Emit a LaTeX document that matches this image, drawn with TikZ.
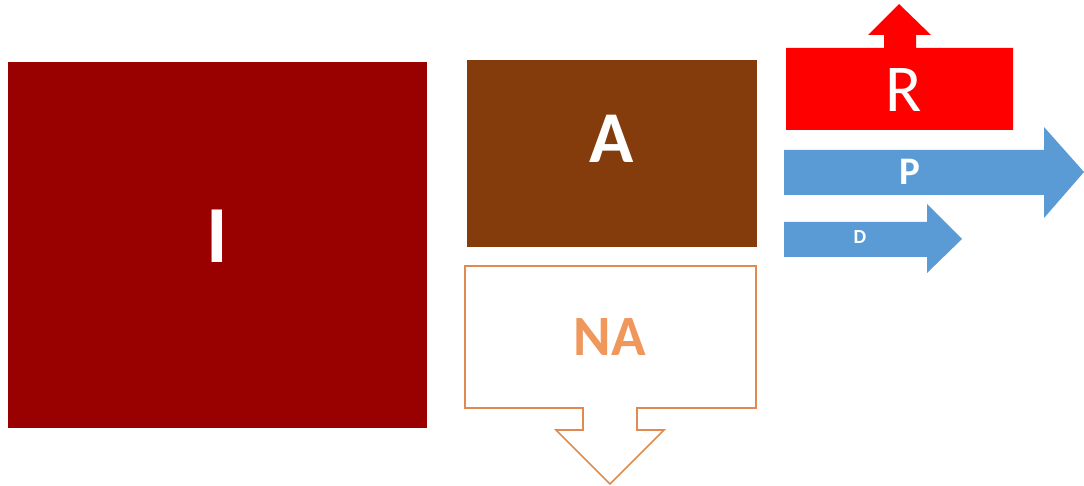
\documentclass[tikz,border=0pt]{standalone}
\usepackage{fontspec}
\setmainfont{Carlito}
\definecolor{cI}{HTML}{990000}
\definecolor{cA}{HTML}{843C0C}
\definecolor{cNA}{HTML}{E08A50}
\definecolor{cNAtxt}{HTML}{F0975C}
\definecolor{cR}{HTML}{FF0000}
\definecolor{cP}{HTML}{5B9BD5}
\tikzset{
  lbl/.style={text=white, inner sep=0pt, anchor=center},
}
\begin{document}
\begin{tikzpicture}[x=1pt,y=-1pt]
\useasboundingbox (0,0) rectangle (1084,486);
% I box
\fill[cI] (8,62) rectangle (427,428);
\node[lbl, font=\fontsize{81}{81}\selectfont\bfseries] (I) at (217,236) {I};
% A box
\fill[cA] (467,60) rectangle (757,247);
\node[lbl, font=\fontsize{73}{73}\selectfont\bfseries] (A) at (612,139) {A};
% NA callout
\draw[cNA, line width=1.6pt, fill=white, line join=miter]
  (465,266) -- (756,266) -- (756,408) -- (637,408) -- (637,430) -- (664,430)
  -- (610,484) -- (556,430) -- (583,430) -- (583,408) -- (465,408) -- cycle;
\node[inner sep=0pt, font=\fontsize{57}{57}\selectfont\bfseries, text=cNAtxt] (NA) at (610,337) {NA};
% R
\fill[cR] (786,48) -- (884,48) -- (884,35) -- (868,35) -- (899,4) -- (931,35)
  -- (916,35) -- (916,48) -- (1013,48) -- (1013,130) -- (786,130) -- cycle;
\node[lbl, font=\fontsize{67}{67}\selectfont] (R) at (904,90) {R};
% P arrow
\fill[cP] (784,150) -- (1044,150) -- (1044,127) -- (1084,172) -- (1044,218)
  -- (1044,195) -- (784,195) -- cycle;
\node[lbl, font=\fontsize{39}{39}\selectfont\bfseries] (P) at (910,172) {P};
% D arrow
\fill[cP] (784,222) -- (927,222) -- (927,204) -- (962,239) -- (927,273)
  -- (927,257) -- (784,257) -- cycle;
\node[lbl, font=\fontsize{20}{20}\selectfont\bfseries] (D) at (860,237) {D};
\end{tikzpicture}
\end{document}
